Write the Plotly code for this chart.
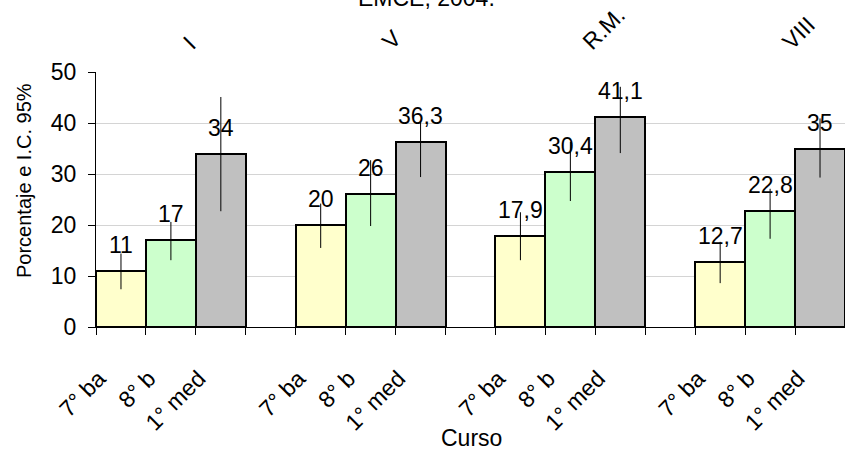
import plotly.graph_objects as go

# ---------------- data ----------------
regions = ["I", "V", "R.M.", "VIII"]
courses = ["7° ba", "8° b", "1° med"]
course_colors = ["#FFFFCC", "#CCFFCC", "#C0C0C0"]

pct_I = [11, 17, 34]
pct_V = [20, 26, 36.3]
pct_RM = [17.9, 30.4, 41.1]
pct_VIII = [12.7, 22.8, 35]

low_I = [7.4, 13.1, 22.7]
low_V = [15.5, 19.8, 29.4]
low_RM = [13.1, 24.7, 34.1]
low_VIII = [8.6, 17.3, 29.3]

up_I = [14.4, 20.6, 45.1]
up_V = [24.2, 32.7, 40.2]
up_RM = [22.5, 36.3, 47.1]
up_VIII = [16.7, 27.1, 40.9]

y_ticks = [0, 10, 20, 30, 40, 50]
title_text = "EMCE, 2004."
y_title = "Porcentaje e I.C. 95%"
x_title = "Curso"

pcts = [pct_I, pct_V, pct_RM, pct_VIII]
lows = [low_I, low_V, low_RM, low_VIII]
ups = [up_I, up_V, up_RM, up_VIII]

# ---------------- layout geometry ----------------
W, H = 845, 451
ML, MR, MT, MB = 96, 0, 72, 124
PW, PH = W - ML - MR, H - MT - MB
FONT = "Liberation Sans, Arial, sans-serif"
FS = 23


def px_x(px):
    return (px - ML) / PW


def px_y(py):
    return (H - MB - py) / PH


# categories: 3 bars per region + one empty slot between regions
cat_ids, cat_text = [], []
bx, by, bcol, eplus, eminus = [], [], [], [], []
for gi, reg in enumerate(regions):
    if gi > 0:
        cat_ids.append(f"gap{gi}")
        cat_text.append("")
    for ci, course in enumerate(courses):
        cid = f"{reg}|{course}"
        cat_ids.append(cid)
        cat_text.append(course)
        v = pcts[gi][ci]
        bx.append(cid)
        by.append(v)
        bcol.append(course_colors[ci])
        eplus.append(round(ups[gi][ci] - v, 2))
        eminus.append(round(v - lows[gi][ci], 2))

fig = go.Figure()
fig.add_trace(go.Bar(
    x=bx, y=by,
    marker=dict(color=bcol, line=dict(color="black", width=2)),
    width=1,
    error_y=dict(type="data", symmetric=False, array=eplus, arrayminus=eminus,
                 color="black", thickness=1, width=0),
    hoverinfo="x+y",
))

annotations = []
# data labels
for x, v in zip(bx, by):
    txt = f"{v:g}".replace(".", ",")
    annotations.append(dict(x=x, y=v, xref="x", yref="y", text=txt, showarrow=False,
                            xanchor="center", yanchor="bottom", yshift=11,
                            font=dict(size=FS, color="black", family=FONT)))
# region labels on top
for reg in regions:
    annotations.append(dict(x=f"{reg}|{courses[1]}", y=px_y(57), xref="x", yref="paper",
                            text=reg, showarrow=False, textangle=-45,
                            xanchor="left", yanchor="bottom", xshift=4,
                            font=dict(size=FS, color="black", family=FONT)))
# clipped title
annotations.append(dict(x=px_x(426), y=px_y(13), xref="paper", yref="paper",
                        text=title_text, showarrow=False, xanchor="center", yanchor="bottom",
                        font=dict(size=FS, color="black", family=FONT)))
# axis titles
annotations.append(dict(x=px_x(24), y=px_y(181), xref="paper", yref="paper",
                        text=y_title, showarrow=False, textangle=-90,
                        xanchor="center", yanchor="middle",
                        font=dict(size=20, color="black", family=FONT)))
annotations.append(dict(x=px_x(471), y=px_y(438), xref="paper", yref="paper",
                        text=x_title, showarrow=False,
                        xanchor="center", yanchor="middle",
                        font=dict(size=FS, color="black", family=FONT)))

fig.update_layout(
    width=W, height=H, autosize=False,
    margin=dict(l=ML, r=MR, t=MT, b=MB, pad=0, autoexpand=False),
    paper_bgcolor="white", plot_bgcolor="white",
    showlegend=False, bargap=0,
    font=dict(family=FONT, size=FS, color="black"),
    annotations=annotations,
)
fig.update_xaxes(
    type="category", categoryorder="array", categoryarray=cat_ids,
    tickmode="array", tickvals=cat_ids, ticktext=cat_text,
    tickson="boundaries", ticks="outside", ticklen=7, tickcolor="black", tickwidth=1,
    showline=True, linecolor="black", linewidth=1, showgrid=False,
    tickangle=-45, tickfont=dict(size=FS, color="black", family=FONT),
    ticklabelstandoff=28, ticklabelshift=-22, automargin=False,
    range=[-0.5, len(cat_ids) - 0.5],
)
fig.update_yaxes(
    range=[0, 50], tickmode="array", tickvals=y_ticks,
    ticks="outside", ticklen=7, tickcolor="black", tickwidth=1,
    showline=True, linecolor="black", linewidth=1,
    showgrid=True, gridcolor="#D4D4D4", gridwidth=1, zeroline=False,
    tickfont=dict(size=FS, color="black", family=FONT), automargin=False,
    ticklabelstandoff=7,
)

fig.write_html("out.html", config={"displayModeBar": False},
               post_script="document.body.style.margin='0';document.body.style.overflow='hidden';")
